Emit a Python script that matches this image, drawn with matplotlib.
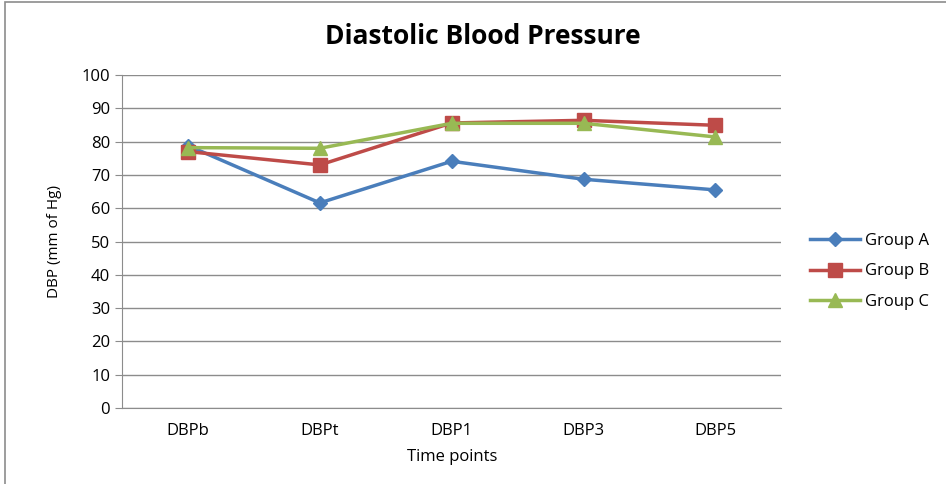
import matplotlib.pyplot as plt
from matplotlib.patches import Rectangle

plt.rcParams['font.family'] = ['Open Sans', 'DejaVu Sans']

# data
time_points = ['DBPb', 'DBPt', 'DBP1', 'DBP3', 'DBP5']
group_a = [78.8, 61.6, 74.1, 68.7, 65.5]
group_b = [77.0, 73.0, 85.6, 86.4, 84.9]
group_c = [78.2, 78.0, 85.5, 85.5, 81.4]

fig = plt.figure(figsize=(9.46, 4.84), dpi=100)
ax = fig.add_axes([0.129, 0.157, 0.697, 0.688])

# outer chart border
fig.patches.append(Rectangle((5 / 946, -0.1), 1.2, 1 - 2 / 484 + 0.1,
                             transform=fig.transFigure, fill=False,
                             edgecolor='#8c8c8c', linewidth=1.2))

x = range(len(time_points))
ax.plot(x, group_a, color='#4A7EBB', lw=2.5, marker='D', ms=7, label='Group A')
ax.plot(x, group_b, color='#BE4B48', lw=2.5, marker='s', ms=10, label='Group B')
ax.plot(x, group_c, color='#98B954', lw=2.5, marker='^', ms=10, label='Group C')

ax.set_xlim(-0.5, len(time_points) - 0.5)
ax.set_ylim(0, 100)
ax.set_yticks(range(0, 101, 10))
ax.set_xticks(list(x))
ax.set_xticklabels(time_points)
ax.yaxis.grid(True, color='#8c8c8c', lw=1)
ax.set_axisbelow(True)
for s in ['top', 'right']:
    ax.spines[s].set_visible(False)
ax.spines['left'].set_color('#8c8c8c')
ax.spines['bottom'].set_color('#8c8c8c')
ax.tick_params(axis='x', length=0, pad=11, labelsize=12)
ax.tick_params(axis='y', length=5, color='#8c8c8c', labelsize=12)

fig.text(483 / 946, 1 - 37 / 484, 'Diastolic Blood Pressure', fontsize=19,
         fontweight='bold', ha='center', va='center')
ax.set_xlabel('Time points', fontsize=12, labelpad=7)
ax.set_ylabel('DBP (mm of Hg)', fontsize=11, labelpad=14)

ax.legend(loc='center left', bbox_to_anchor=(1.02, 0.41), frameon=False,
          fontsize=12, labelspacing=0.85, handlelength=3, handletextpad=0.3)

fig.savefig('out.png', dpi=100)
